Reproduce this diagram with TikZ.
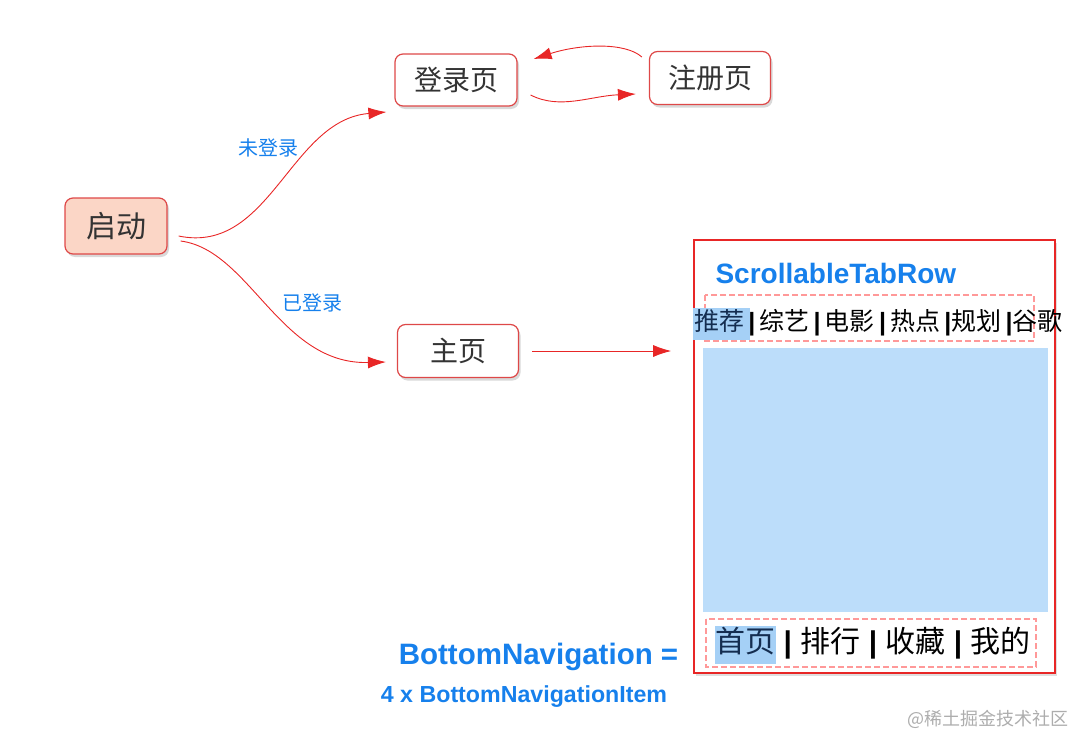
\documentclass[tikz,border=0pt]{standalone}
\usepackage{fontspec}
\setmainfont{Liberation Sans}
\newfontfamily\cjk{Noto Sans CJK SC}
\usetikzlibrary{arrows.meta,shadows}

\definecolor{lineRed}{RGB}{232,38,38}
\definecolor{boxRed}{RGB}{222,72,72}
\definecolor{peach}{RGB}{251,214,198}
\definecolor{navBlue}{RGB}{22,128,236}
\definecolor{paneBlue}{RGB}{188,221,250}
\definecolor{markBlue}{RGB}{165,208,246}
\definecolor{markText}{RGB}{20,45,80}

\newcommand\sepbar{{\rmfamily\bfseries|}}

\tikzset{
  page/.style={draw=boxRed, line width=1.2pt, rounded corners=8pt, fill=white, text=black!80,
    drop shadow={shadow xshift=2pt, shadow yshift=-3pt, opacity=0.3}},
  flow/.style={lineRed, line width=0.9pt, -{Latex[length=18pt,width=12pt]}},
  cond/.style={text=navBlue, font=\cjk\fontsize{20}{24}\selectfont},
  tabbox/.style={draw=red!40, dash pattern=on 6pt off 3pt, line width=1.3pt},
}

\begin{document}
\begin{tikzpicture}[x=1pt,y=-1pt]
    \useasboundingbox (0,0) rectangle (1092,752);

    \node[page, fill=peach, minimum width=102pt, minimum height=56pt, font=\cjk\fontsize{30}{32}\selectfont] (qidong) at (116,226) {启动};
    \node[page, minimum width=122pt, minimum height=52pt, font=\cjk\fontsize{28}{30}\selectfont] (denglu) at (456,80) {登录页};
    \node[page, minimum width=121pt, minimum height=53pt, font=\cjk\fontsize{28}{30}\selectfont] (zhuce) at (710,78) {注册页};
    \node[page, minimum width=121pt, minimum height=53pt, font=\cjk\fontsize{28}{30}\selectfont] (zhuye) at (458,351) {主页};

    \draw[flow]([xshift=11pt,yshift=-10pt]qidong.east) .. controls (270,255) and (290,120) .. ([xshift=-8pt,yshift=-32pt]denglu.west);
    \draw[flow]([xshift=13pt,yshift=-15pt]qidong.east) .. controls (250,250) and (280,365) .. ([xshift=-11pt,yshift=-11pt]zhuye.west);
    \draw[flow]([xshift=13pt,yshift=-15pt]denglu.east) .. controls (560,110) and (590,96) .. ([xshift=-13pt,yshift=-16pt]zhuce.west);
    \draw[flow]([xshift=-7pt,yshift=21pt]zhuce.west) .. controls (625,42) and (580,44) .. ([xshift=16pt,yshift=21pt]denglu.east);
    \node[cond] (weidenglu) at (268,148) {未登录};
    \node[cond] (yidenglu) at (312,303) {已登录};

    % screen of the home page
    \node[draw=lineRed, line width=1.6pt, fill=white, minimum width=361pt, minimum height=433pt,
      drop shadow={shadow xshift=2pt, shadow yshift=-3pt, opacity=0.25}] (screen) at (874.5,456.5) {};
    \draw[flow, shorten <=13pt, shorten >=22pt](zhuye.east) -- (zhuye.east -| screen.west);

    \node[anchor=west, text=navBlue, font=\bfseries\fontsize{28}{30}\selectfont] (tabtitle) at (712,273) {ScrollableTabRow};
    \draw[tabbox](705,295) rectangle (1034,341);
    \fill[markBlue](693,308) rectangle (750,340);
    \node[anchor=west, inner sep=0pt, font=\cjk\fontsize{25}{28}\selectfont] (tabs) at (694,323)
      {\textcolor{markText}{推荐}\,\sepbar{}\,综艺\,\sepbar{}\,电影\,\sepbar{}\,热点\,\sepbar{}规划\,\sepbar{}谷歌};
    \fill[paneBlue](703,348) rectangle (1048,612);

    \draw[tabbox](706,619) rectangle (1036,667);
    \fill[markBlue](715,626) rectangle (776,664);
    \node[anchor=west, inner sep=0pt, font=\cjk\fontsize{30}{32}\selectfont] (navitems) at (715,643)
      {\textcolor{markText}{首页}\hspace{0.28em}\sepbar{}\hspace{0.28em}排行\hspace{0.28em}\sepbar{}\hspace{0.28em}收藏\hspace{0.28em}\sepbar{}\hspace{0.28em}我的};

    \node[text=navBlue, font=\bfseries\fontsize{29.5}{32}\selectfont] (navtitle) at (538.5,657) {BottomNavigation =};
    \node[text=navBlue, font=\bfseries\fontsize{23.2}{26}\selectfont] (navcount) at (524,697) {4 x BottomNavigationItem};

    \node[text=black!32, font=\cjk\fontsize{18}{20}\selectfont] (mark) at (988,719) {@稀土掘金技术社区};
\end{tikzpicture}
\end{document}
